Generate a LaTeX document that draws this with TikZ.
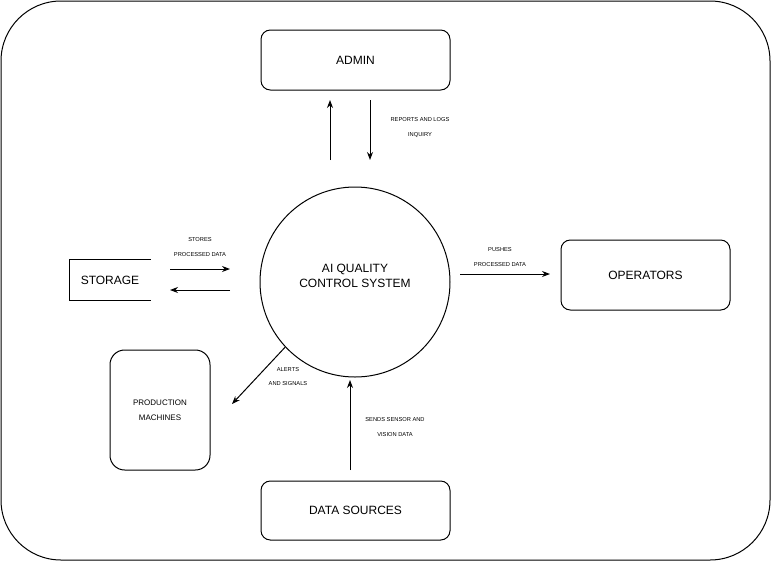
\documentclass[tikz,border=0pt]{standalone}
\usepackage{fontspec}
\setmainfont{Liberation Sans}
\usetikzlibrary{arrows.meta}

\begin{document}
\begin{tikzpicture}[
    x=0.75pt, y=-0.75pt,
    line width=0.75pt,
    box/.style={rectangle, rounded corners=7pt, draw, minimum width=141.75pt, minimum height=45pt, align=center, font=\fontsize{9}{11}\selectfont},
    proc/.style={circle, draw, minimum size=142.5pt, inner sep=0pt},
    lbl/.style={align=center, font=\fontsize{4.3}{11}\selectfont},
    arrow/.style={-{Stealth[length=6pt, width=4.5pt]}}
]
    \useasboundingbox (0,0) rectangle (771,561);
    % Frame
    \draw[rounded corners=45pt] (1,1) rectangle (770,560);

    % Boxes
    \node[proc, label={[align=center, font=\fontsize{9}{11.25}\selectfont, yshift=4.5pt]center:AI QUALITY\\CONTROL SYSTEM}] (sys) at (355,282) {};
    \node[box] (admin) at (355.5,60) {ADMIN};
    \node[box, minimum width=126.75pt, minimum height=52.5pt] (ops) at (645.5,275) {OPERATORS};
    \node[box, minimum height=44.25pt] (src) at (355.5,510.5) {DATA SOURCES};
    \node[box, rounded corners=11pt, minimum width=75pt, minimum height=90pt, font=\fontsize{6}{11}\selectfont] (mach) at (160,410) {PRODUCTION\\MACHINES};
    \node[minimum width=60pt, minimum height=30pt, inner sep=0pt, font=\fontsize{9}{11}\selectfont] (store) at (110,280) {STORAGE};
    \draw (store.north east) -| (store.south west) -- (store.south east);

    % Arrow ends
    \coordinate (admUp) at (330,160);
    \coordinate (admTop) at (330,100);
    \coordinate (admDn) at (370,100);
    \coordinate (admBot) at (370,160);
    \coordinate (stIn) at (170,269);
    \coordinate (stOut) at (230,269);
    \coordinate (stBack) at (230,290);
    \coordinate (stEnd) at (170,290);
    \coordinate (opsA) at (460,274);
    \coordinate (opsB) at (550,274);
    \coordinate (machEnd) at (232,404);
    \coordinate (srcA) at (350,470);
    \coordinate (srcB) at (350,380);

    % Arrows
    \draw[arrow] (admUp) -- (admTop);
    \draw[arrow] (admDn) -- (admBot);
    \draw[arrow] (stIn) -- (stOut);
    \draw[arrow] (stBack) -- (stEnd);
    \draw[arrow] (opsA) -- (opsB);
    \draw[arrow] (sys.223) -- (machEnd);
    \draw[arrow] (srcA) -- (srcB);

    % Labels
    \node[lbl] (repLbl) at (420,120) {REPORTS AND LOGS};
    \node[lbl] (inqLbl) at (420,135) {INQUIRY};
    \node[lbl] (stoLbl) at (200,240) {STORES};
    \node[lbl] (proLbl) at (200,255) {PROCESSED DATA};
    \node[lbl] (pshLbl) at (500,250) {PUSHES};
    \node[lbl] (pdtLbl) at (500,265) {PROCESSED DATA};
    \node[lbl] (altLbl) at (288,370) {ALERTS};
    \node[lbl] (sigLbl) at (288,384) {AND SIGNALS};
    \node[lbl] (sndLbl) at (395,420) {SENDS SENSOR AND};
    \node[lbl] (visLbl) at (395,435) {VISION DATA};
\end{tikzpicture}
\end{document}
